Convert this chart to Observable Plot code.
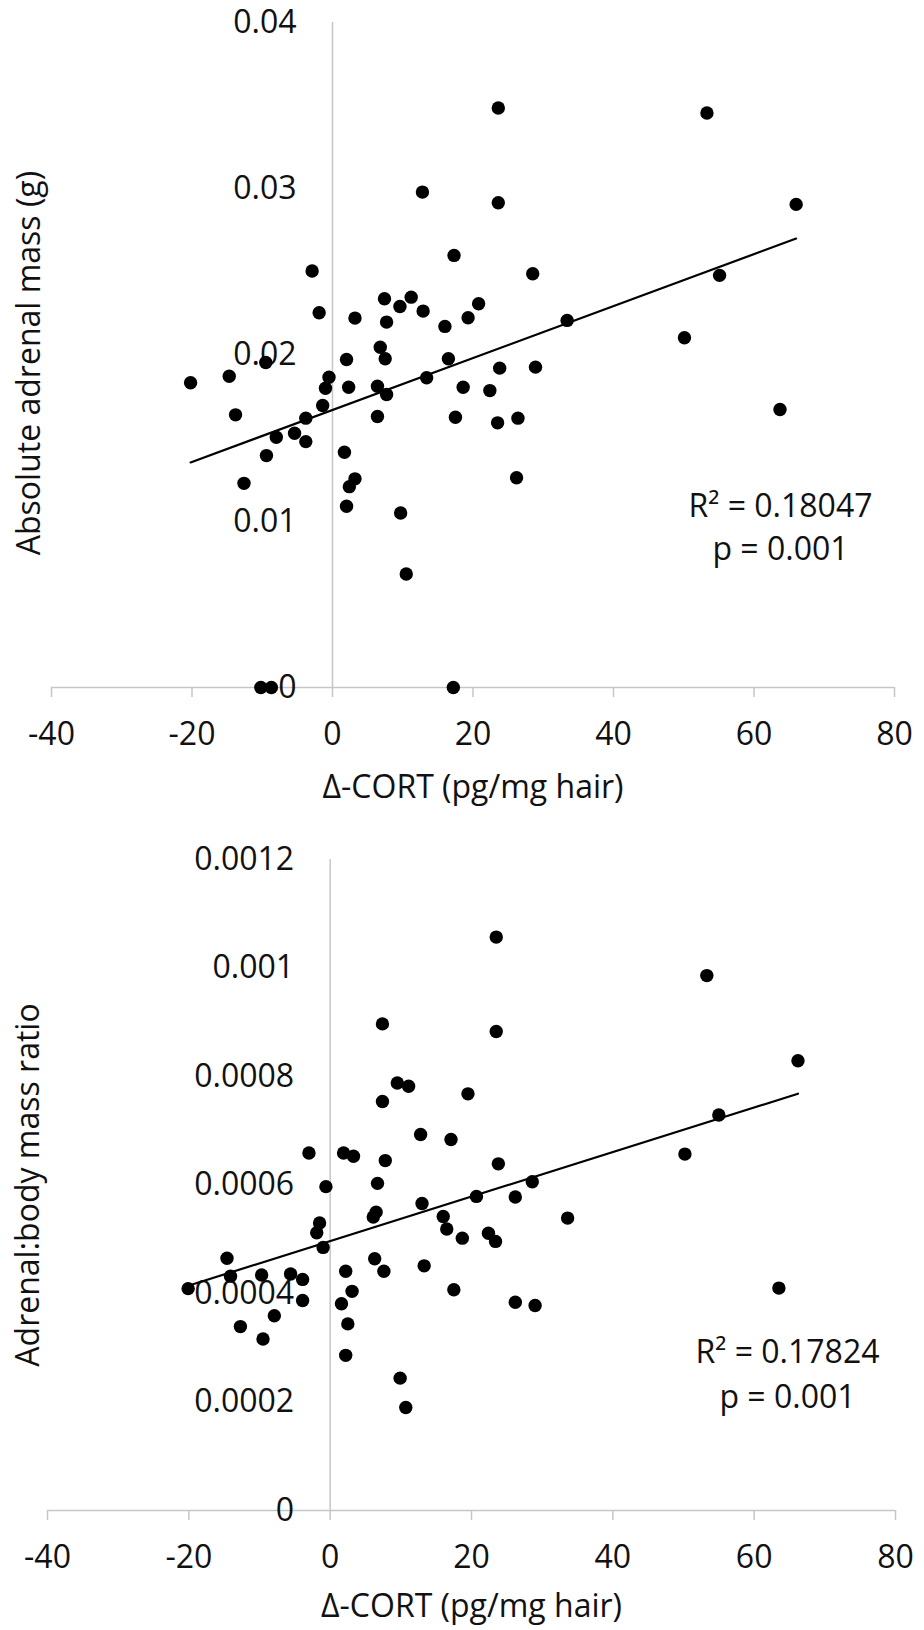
<!DOCTYPE html>
<html>
<head>
<meta charset="utf-8">
<script src="https://cdn.jsdelivr.net/npm/d3@7"></script>
<script src="https://cdn.jsdelivr.net/npm/@observablehq/plot@0.6"></script>
<style>
  html, body { margin: 0; padding: 0; background: white; }
  #chart svg { display: block; }
</style>
</head>
<body>
<div id="chart"></div>
<script>
// ---- Data ----
const topX = [-20.2,-14.7,-13.8,-12.6,-10.2,-9.5,-9.4,-8.7,-8.0,-5.4,-3.8,-3.8,-2.9,-1.9,-1.4,-1.0,-0.5,1.7,2.0,2.0,2.3,2.4,3.2,3.2,6.4,6.4,6.8,7.4,7.5,7.7,7.7,9.6,9.7,10.5,11.2,12.8,12.9,13.4,16.0,16.5,17.2,17.3,17.5,18.6,19.3,20.8,22.4,23.5,23.6,23.6,23.8,26.2,26.4,28.5,28.9,33.4,50.1,53.3,55.1,63.7,66.0];
const topY = [0.01833,0.01872,0.0164,0.01228,0,0.01955,0.01395,0,0.01505,0.01529,0.0162,0.01479,0.02505,0.02254,0.01696,0.018,0.01866,0.01415,0.01973,0.0109,0.01806,0.01208,0.02222,0.01255,0.01812,0.0163,0.02047,0.02338,0.01977,0.02198,0.01762,0.02292,0.0105,0.00683,0.02348,0.0298,0.02264,0.01863,0.02172,0.01977,0,0.02599,0.01626,0.01806,0.02224,0.02308,0.01786,0.01592,0.03486,0.02916,0.01921,0.01262,0.0162,0.02489,0.01927,0.02208,0.02104,0.03456,0.02479,0.01672,0.02906];

const botX = [-20.1,-14.6,-14.1,-12.7,-9.7,-9.5,-7.9,-5.6,-3.9,-3.9,-3.0,-1.9,-1.5,-1.0,-0.6,1.6,1.9,2.2,2.2,2.5,3.1,3.3,6.1,6.3,6.5,6.7,7.4,7.4,7.6,7.8,9.5,9.9,10.7,11.1,12.8,13.0,13.3,16.0,16.5,17.1,17.5,18.7,19.5,20.7,22.4,23.4,23.5,23.5,23.8,26.2,26.2,28.6,29.0,33.6,50.2,53.3,55.0,63.5,66.2];
const botY = [0.000409,0.000465,0.000432,0.000339,0.000434,0.000316,0.000359,0.000436,0.000426,0.000387,0.000659,0.000512,0.00053,0.000485,0.000597,0.000381,0.000659,0.000441,0.000286,0.000344,0.000404,0.000653,0.000541,0.000464,0.00055,0.000603,0.000754,0.000897,0.000441,0.000645,0.000788,0.000244,0.00019,0.000782,0.000693,0.000566,0.000451,0.000542,0.000519,0.000684,0.000407,0.000502,0.000768,0.000579,0.000511,0.000496,0.001057,0.000883,0.000639,0.000578,0.000384,0.000606,0.000378,0.000539,0.000657,0.000986,0.000729,0.00041,0.000829];

const xTicks = [-40, -20, 0, 20, 40, 60, 80];
const topYTicks = [0, 0.01, 0.02, 0.03, 0.04];
const botYTicks = [0, 0.0002, 0.0004, 0.0006, 0.0008, 0.001, 0.0012];

const xTitle = "Δ-CORT (pg/mg hair)";
const topYTitle = "Absolute adrenal mass (g)";
const botYTitle = "Adrenal:body mass ratio";
const topStats = ["R² = 0.18047", "p = 0.001"];
const botStats = ["R² = 0.17824", "p = 0.001"];

// ---- Chart builder ----
const FONT = "'Open Sans', 'Noto Sans', sans-serif";
const INK = "#111111";
const AXIS = "#c6c6c6";

function panel(o) {
  const data = o.xs.map((x, i) => ({x, y: o.ys[i]}));
  return Plot.plot({
    width: 924,
    height: o.height,
    marginTop: o.marginTop,
    marginBottom: o.marginBottom,
    marginLeft: o.marginLeft,
    marginRight: o.marginRight,
    style: {fontFamily: FONT, fontSize: "32px", color: INK, background: "white", overflow: "visible"},
    x: {domain: [xTicks[0], xTicks[xTicks.length - 1]]},
    y: {domain: [0, o.yTicks[o.yTicks.length - 1]], axis: null},
    marks: [
      Plot.ruleY([0], {stroke: AXIS, strokeWidth: 1.5}),
      Plot.ruleX([0], {stroke: AXIS, strokeWidth: 1.5}),
      Plot.axisX({ticks: xTicks, tickSize: 10, tickPadding: 25, stroke: AXIS, strokeWidth: 1.5, fill: INK,
                  fontSize: 32, label: null, tickFormat: d => String(d)}),
      Plot.text(o.yTicks, {x: 0, y: d => d, text: d => String(d), textAnchor: "end", dx: -36, fill: INK, fontSize: 32}),
      Plot.linearRegressionY(data, {x: "x", y: "y", stroke: "black", strokeWidth: 2.2, ci: 0}),
      Plot.dot(data, {x: "x", y: "y", r: 6.7, fill: "black", stroke: "none"}),
      Plot.text([xTitle], {frameAnchor: "bottom", textAnchor: "middle", lineAnchor: "middle",
                  dy: o.xTitleDy, fill: INK, fontSize: 32}),
      Plot.text([o.yTitle], {frameAnchor: "left", rotate: -90, textAnchor: "middle", lineAnchor: "middle",
                  dx: o.yTitleDx, dy: o.yTitleDy, fill: INK, fontSize: 32}),
      Plot.text([o.stats.join("\n")], {frameAnchor: "top-right", dx: o.statsDx, dy: o.statsDy,
                  textAnchor: "middle", lineAnchor: "middle", lineHeight: o.statsLine, fill: INK, fontSize: 32})
    ]
  });
}

const chart = document.getElementById("chart");
chart.appendChild(panel({
  xs: topX, ys: topY, yTicks: topYTicks, yTitle: topYTitle, stats: topStats,
  height: 815, marginTop: 22, marginBottom: 128, marginLeft: 51, marginRight: 30,
  xTitleDy: 100, yTitleDx: -22, yTitleDy: 8, statsDx: -114, statsDy: 502, statsLine: 1.35
}));
chart.appendChild(panel({
  xs: botX, ys: botY, yTicks: botYTicks, yTitle: botYTitle, stats: botStats,
  height: 815, marginTop: 44, marginBottom: 120, marginLeft: 47, marginRight: 29,
  xTitleDy: 96, yTitleDx: -19, yTitleDy: 0, statsDx: -108, statsDy: 512, statsLine: 1.4
}));
</script>
</body>
</html>
